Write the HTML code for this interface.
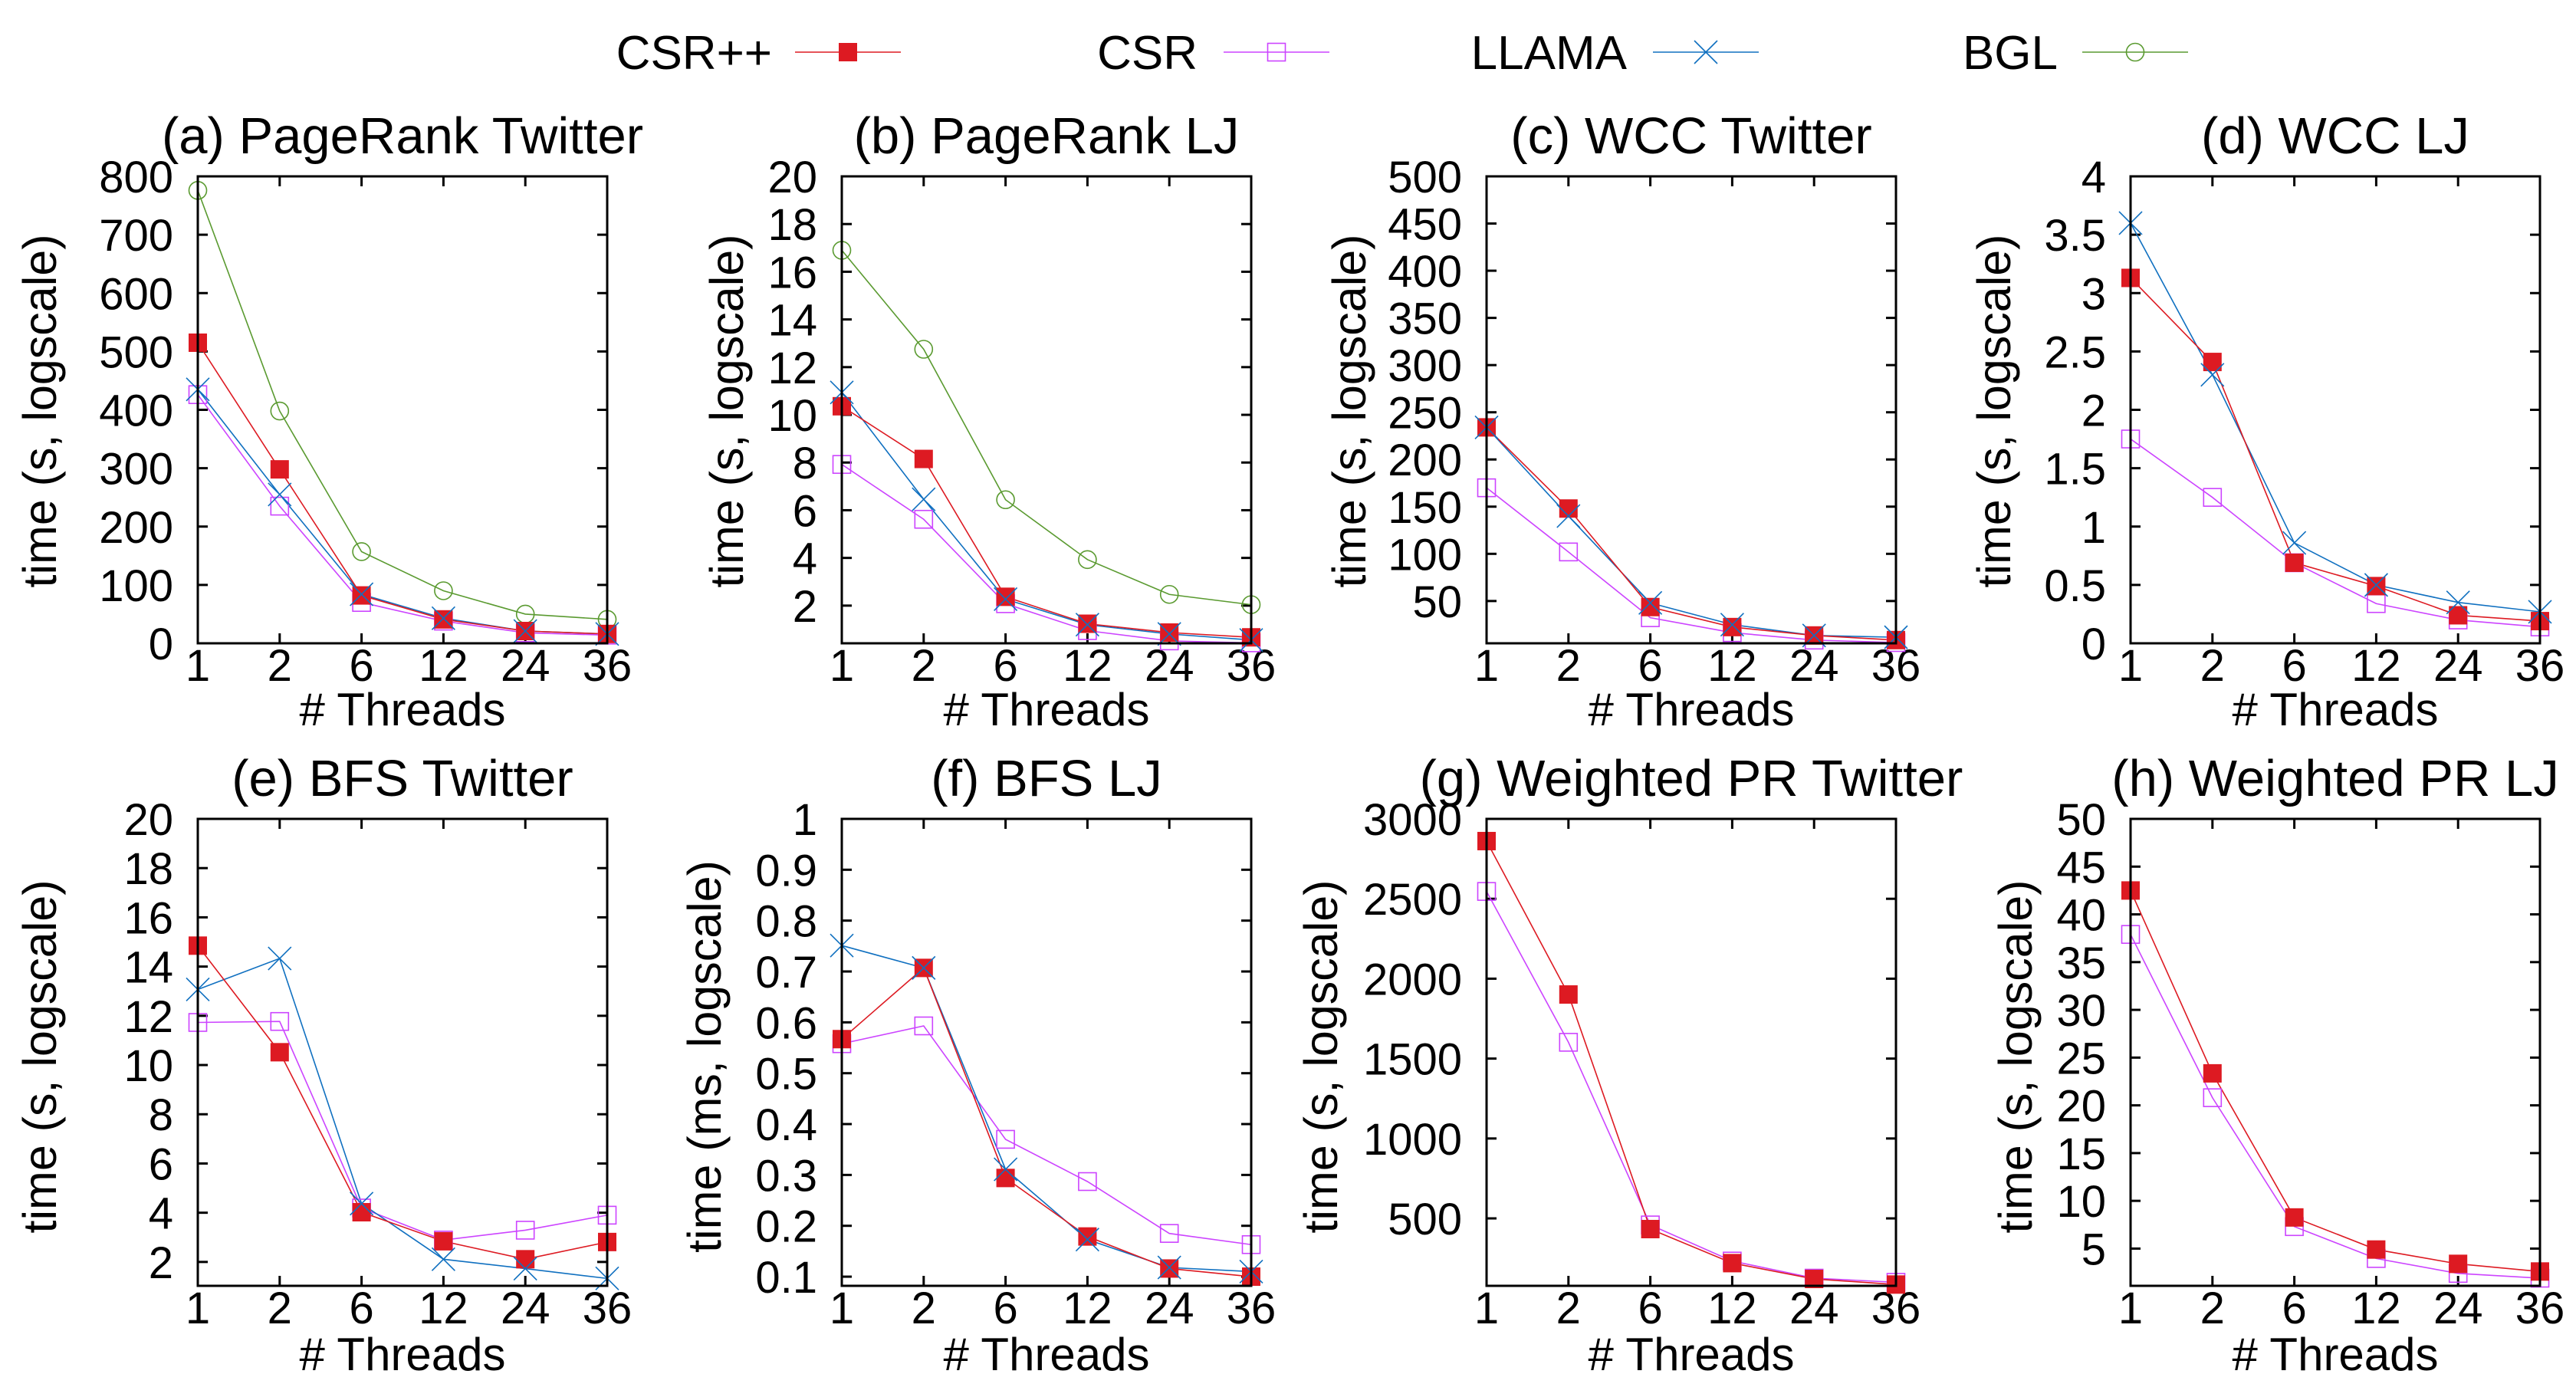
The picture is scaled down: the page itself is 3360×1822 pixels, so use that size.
<!DOCTYPE html>
<html><head><meta charset="utf-8"><style>
html,body{margin:0;padding:0;background:#fff;}
svg{display:block;font-family:"Liberation Sans",sans-serif;}
</style></head><body>
<svg id="chart" width="3360" height="1822" viewBox="0 0 3360 1822" xmlns="http://www.w3.org/2000/svg"></svg>
<script>
const threads = ["1","2","6","12","24","36"];
const seriesNames = ["CSR++","CSR","LLAMA","BGL"];
// panel a
const aCsrpp = [515,298,82,41,21,16];
const aCsr = [426,235,70,38,18,14];
const aLlama = [435,255,84,43,21,16];
const aBgl = [776,398,157,90,50,41];
// panel b
const bCsrpp = [10.36,8.15,2.37,1.24,0.87,0.67];
const bCsr = [7.92,5.62,2.08,0.95,0.52,0.44];
const bLlama = [10.94,6.46,2.27,1.2,0.81,0.56];
const bBgl = [16.9,12.75,6.44,3.93,2.47,2.04];
// panel c
const cCsrpp = [234,148,43.6,22.4,13.5,8.6];
const cCsr = [170,102,32.3,16.5,8.6,6];
const cLlama = [234,140,48,25,13.5,11.6];
// panel d
const dCsrpp = [3.13,2.41,0.69,0.49,0.24,0.19];
const dCsr = [1.75,1.25,0.69,0.34,0.2,0.14];
const dLlama = [3.6,2.3,0.86,0.5,0.35,0.27];
// panel e
const eCsrpp = [14.85,10.52,4.02,2.84,2.11,2.81];
const eCsr = [11.73,11.77,4.19,2.89,3.29,3.9];
const eLlama = [13.07,14.33,4.37,2.11,1.73,1.33];
// panel f
const fCsrpp = [0.567,0.707,0.294,0.179,0.116,0.1];
const fCsr = [0.558,0.593,0.37,0.287,0.185,0.163];
const fLlama = [0.751,0.707,0.311,0.173,0.118,0.11];
// panel g
const gCsrpp = [2861,1901,433,220,121,86];
const gCsr = [2546,1602,459,233,126,100];
// panel h
const hCsrpp = [42.5,23.35,8.26,4.9,3.4,2.6];
const hCsr = [37.9,20.8,7.3,3.96,2.4,1.9];
// ticks
const aTicks = [0,100,200,300,400,500,600,700,800];
const bTicks = [2,4,6,8,10,12,14,16,18,20];
const cTicks = [50,100,150,200,250,300,350,400,450,500];
const dTicks = [0,0.5,1,1.5,2,2.5,3,3.5,4];
const eTicks = [2,4,6,8,10,12,14,16,18,20];
const fTicks = [0.1,0.2,0.3,0.4,0.5,0.6,0.7,0.8,0.9,1];
const gTicks = [500,1000,1500,2000,2500,3000];
const hTicks = [5,10,15,20,25,30,35,40,45,50];

const COL = {"CSR++":"#dd1a22","CSR":"#cc44ff","LLAMA":"#1070c0","BGL":"#5a9a30"};
const NS="http://www.w3.org/2000/svg";
const svg=document.getElementById('chart');
function mk(tag,attrs,parent){const e=document.createElementNS(NS,tag);for(const k in attrs)e.setAttribute(k,attrs[k]);(parent||svg).appendChild(e);return e;}

function marker(g,name,x,y){
  const c=COL[name];let m;
  if(name==="CSR++"){m=mk('rect',{x:x-12,y:y-12,width:24,height:24,fill:c},g);}
  else if(name==="CSR"){m=mk('rect',{x:x-11.5,y:y-11.5,width:23,height:23,fill:'none',stroke:c,'stroke-width':1.6},g);}
  else if(name==="LLAMA"){m=mk('path',{d:`M${x-15} ${y-15}L${x+15} ${y+15}M${x-15} ${y+15}L${x+15} ${y-15}`,stroke:c,'stroke-width':1.6,fill:'none'},g);}
  else {m=mk('circle',{cx:x,cy:y,r:11.5,fill:'none',stroke:c,'stroke-width':1.6},g);}
  
  
}

const TOP={T:230,B:839,title:200,tick:888,xl:946,yc:536};
const BOT={T:1068,B:1677,title:1038,tick:1726,xl:1787,yc:1378};
const panels=[
 {id:'a',row:TOP,title:'(a) PageRank Twitter',L:258,ymin:0,ymax:800,ticks:aTicks,ylab:'time (s, logscale)',ylx:52,series:{"CSR++":aCsrpp,"CSR":aCsr,"LLAMA":aLlama,"BGL":aBgl}},
 {id:'b',row:TOP,title:'(b) PageRank LJ',L:1098,ymin:0.42,ymax:20,ticks:bTicks,ylab:'time (s, logscale)',ylx:948,series:{"CSR++":bCsrpp,"CSR":bCsr,"LLAMA":bLlama,"BGL":bBgl}},
 {id:'c',row:TOP,title:'(c) WCC Twitter',L:1939,ymin:5.2,ymax:500,ticks:cTicks,ylab:'time (s, logscale)',ylx:1760,series:{"CSR++":cCsrpp,"CSR":cCsr,"LLAMA":cLlama}},
 {id:'d',row:TOP,title:'(d) WCC LJ',L:2779,ymin:0,ymax:4,ticks:dTicks,ylab:'time (s, logscale)',ylx:2601,series:{"CSR++":dCsrpp,"CSR":dCsr,"LLAMA":dLlama}},
 {id:'e',row:BOT,title:'(e) BFS Twitter',L:258,ymin:1.03,ymax:20,ticks:eTicks,ylab:'time (s, logscale)',ylx:52,series:{"CSR++":eCsrpp,"CSR":eCsr,"LLAMA":eLlama}},
 {id:'f',row:BOT,title:'(f) BFS LJ',L:1098,ymin:0.082,ymax:1,ticks:fTicks,ylab:'time (ms, logscale)',ylx:919,series:{"CSR++":fCsrpp,"CSR":fCsr,"LLAMA":fLlama}},
 {id:'g',row:BOT,title:'(g) Weighted PR Twitter',L:1939,ymin:78,ymax:3000,ticks:gTicks,ylab:'time (s, logscale)',ylx:1723,series:{"CSR++":gCsrpp,"CSR":gCsr}},
 {id:'h',row:BOT,title:'(h) Weighted PR LJ',L:2779,ymin:1.1,ymax:50,ticks:hTicks,ylab:'time (s, logscale)',ylx:2629,series:{"CSR++":hCsrpp,"CSR":hCsr}}
];
const W=534;
panels.forEach(p=>{
  const g=mk('g',{});
  
  
  const R=p.L+W, T=p.row.T, B=p.row.B;
  const xs=i=>p.L+i*W/(threads.length-1);
  const ys=v=>B-(v-p.ymin)/(p.ymax-p.ymin)*(B-T);
  const t=mk('text',{x:p.L+W/2,y:p.row.title,'text-anchor':'middle','font-size':67},g);t.textContent=p.title;
  
  
  p.ticks.forEach(v=>{
    const y=ys(v);
    mk('line',{x1:p.L,x2:p.L+13,y1:y,y2:y,stroke:'#000','stroke-width':3},g);
    mk('line',{x1:R,x2:R-13,y1:y,y2:y,stroke:'#000','stroke-width':3},g);
    const tl=mk('text',{x:p.L-32,y:y+21,'text-anchor':'end','font-size':58},g);tl.textContent=String(v);
    
    
  });
  threads.forEach((lab,i)=>{
    const x=xs(i);
    mk('line',{x1:x,x2:x,y1:B,y2:B-13,stroke:'#000','stroke-width':3},g);
    mk('line',{x1:x,x2:x,y1:T,y2:T+13,stroke:'#000','stroke-width':3},g);
    const tl=mk('text',{x:x,y:p.row.tick,'text-anchor':'middle','font-size':58},g);tl.textContent=lab;
    
    
  });
  const xl=mk('text',{x:p.L+W/2,y:p.row.xl,'text-anchor':'middle','font-size':60},g);xl.textContent='# Threads';
  
  
  const cy=p.row.yc;
  const yl=mk('text',{x:p.ylx,y:cy,'text-anchor':'middle','font-size':61,transform:`rotate(-90 ${p.ylx} ${cy}) translate(0 21)`},g);yl.textContent=p.ylab;
  
  
  ["BGL","CSR","LLAMA","CSR++"].forEach(name=>{
    const vals=p.series[name]; if(!vals) return;
    const pts=vals.map((v,i)=>xs(i)+','+ys(v)).join(' ');
    const pl=mk('polyline',{points:pts,fill:'none',stroke:COL[name],'stroke-width':1.6},g);
    
    
  });
  ["BGL","CSR","CSR++","LLAMA"].forEach(name=>{
    const vals=p.series[name]; if(!vals) return;
    vals.forEach((v,i)=>marker(g,name,xs(i),ys(v)));
  });
  const fr=mk('rect',{x:p.L,y:T,width:W,height:B-T,fill:'none',stroke:'#000','stroke-width':3},g);
  
  
});
const legTextEnd=[1007,1562,2122,2684];
const legLineStart=[1037,1596,2156,2716];
seriesNames.forEach((name,i)=>{
  const lg=mk('g',{});
  
  
  const t=mk('text',{x:legTextEnd[i],y:90,'text-anchor':'end','font-size':62},lg);t.textContent=name;
  const x0=legLineStart[i];
  mk('line',{x1:x0,x2:x0+138,y1:68,y2:68,stroke:COL[name],'stroke-width':1.6},lg);
  marker(lg,name,x0+69,68);
});
</script>
</body></html>
